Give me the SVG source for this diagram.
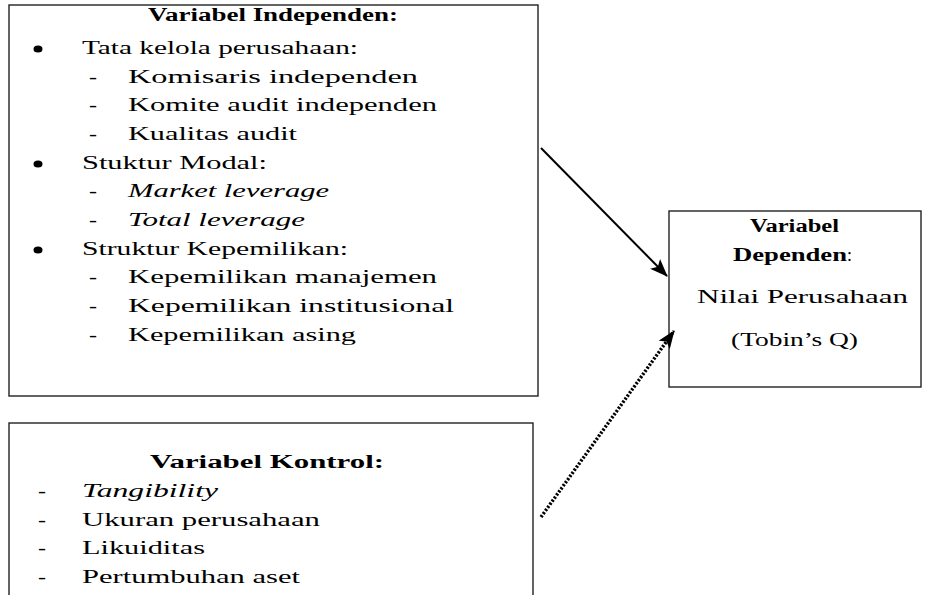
<svg xmlns="http://www.w3.org/2000/svg" width="926" height="595" viewBox="0 0 926 595">
<style>
.box{fill:#fff;stroke:#222;stroke-width:1.4}
text{font-family:"Liberation Serif","Times New Roman",serif;font-size:18px;fill:#000}
.b{font-weight:bold}
.i{font-style:italic}
.c{stroke:#000;stroke-width:2;fill:none}
.d{stroke:#000;stroke-width:3.4;fill:none;stroke-dasharray:2.2 1.6}
</style>
<defs>
<marker id="ah" markerUnits="userSpaceOnUse" markerWidth="18" markerHeight="14" refX="17" refY="7" orient="auto">
<path d="M0,0 L18,7 L0,14 L4,7 Z" fill="#000"/>
</marker>
</defs>
<rect width="926" height="595" fill="#fff"/>
<g id="independen">
<rect class="box" x="9" y="5" width="529" height="391"/>
<text class="b" x="148" y="21" textLength="250" lengthAdjust="spacingAndGlyphs">Variabel Independen:</text>
<ellipse cx="38" cy="49" rx="4.5" ry="3.5"/>
<text x="82" y="54" textLength="276" lengthAdjust="spacingAndGlyphs">Tata kelola perusahaan:</text>
<text x="89" y="83" textLength="8" lengthAdjust="spacingAndGlyphs">-</text>
<text x="128" y="83" textLength="290" lengthAdjust="spacingAndGlyphs">Komisaris independen</text>
<text x="89" y="111" textLength="8" lengthAdjust="spacingAndGlyphs">-</text>
<text x="128" y="111" textLength="309" lengthAdjust="spacingAndGlyphs">Komite audit independen</text>
<text x="89" y="140" textLength="8" lengthAdjust="spacingAndGlyphs">-</text>
<text x="128" y="140" textLength="169" lengthAdjust="spacingAndGlyphs">Kualitas audit</text>
<ellipse cx="38" cy="164" rx="4.5" ry="3.5"/>
<text x="82" y="169" textLength="185" lengthAdjust="spacingAndGlyphs">Stuktur Modal:</text>
<text x="89" y="197" textLength="8" lengthAdjust="spacingAndGlyphs">-</text>
<text class="i" x="128" y="197" textLength="201" lengthAdjust="spacingAndGlyphs">Market leverage</text>
<text x="89" y="226" textLength="8" lengthAdjust="spacingAndGlyphs">-</text>
<text class="i" x="128" y="226" textLength="177" lengthAdjust="spacingAndGlyphs">Total leverage</text>
<ellipse cx="38" cy="250" rx="4.5" ry="3.5"/>
<text x="82" y="255" textLength="266" lengthAdjust="spacingAndGlyphs">Struktur Kepemilikan:</text>
<text x="89" y="283" textLength="8" lengthAdjust="spacingAndGlyphs">-</text>
<text x="128" y="283" textLength="309" lengthAdjust="spacingAndGlyphs">Kepemilikan manajemen</text>
<text x="89" y="312" textLength="8" lengthAdjust="spacingAndGlyphs">-</text>
<text x="128" y="312" textLength="326" lengthAdjust="spacingAndGlyphs">Kepemilikan institusional</text>
<text x="89" y="341" textLength="8" lengthAdjust="spacingAndGlyphs">-</text>
<text x="128" y="341" textLength="228" lengthAdjust="spacingAndGlyphs">Kepemilikan asing</text>
</g>
<g id="kontrol">
<rect class="box" x="9" y="423" width="524" height="180"/>
<text class="b" x="150" y="468" textLength="234" lengthAdjust="spacingAndGlyphs">Variabel Kontrol:</text>
<text x="38" y="497" textLength="8" lengthAdjust="spacingAndGlyphs">-</text>
<text class="i" x="82" y="497" textLength="136" lengthAdjust="spacingAndGlyphs">Tangibility</text>
<text x="38" y="526" textLength="8" lengthAdjust="spacingAndGlyphs">-</text>
<text x="82" y="526" textLength="238" lengthAdjust="spacingAndGlyphs">Ukuran perusahaan</text>
<text x="38" y="554" textLength="8" lengthAdjust="spacingAndGlyphs">-</text>
<text x="82" y="554" textLength="123" lengthAdjust="spacingAndGlyphs">Likuiditas</text>
<text x="38" y="583" textLength="8" lengthAdjust="spacingAndGlyphs">-</text>
<text x="82" y="583" textLength="218" lengthAdjust="spacingAndGlyphs">Pertumbuhan aset</text>
</g>
<g id="dependen">
<rect class="box" x="669" y="211" width="252" height="176"/>
<text class="b" x="750" y="232" textLength="89" lengthAdjust="spacingAndGlyphs">Variabel</text>
<text x="733" y="261"><tspan class="b" textLength="114" lengthAdjust="spacingAndGlyphs">Dependen</tspan><tspan>:</tspan></text>
<text x="697" y="303" textLength="211" lengthAdjust="spacingAndGlyphs">Nilai Perusahaan</text>
<text x="731" y="346" textLength="127" lengthAdjust="spacingAndGlyphs">(Tobin’s Q)</text>
</g>
<g id="connectors">
<line class="c" x1="541" y1="148" x2="667" y2="276" marker-end="url(#ah)"/>
<line class="d" x1="541" y1="517" x2="674" y2="331" marker-end="url(#ah)"/>
</g>
</svg>
